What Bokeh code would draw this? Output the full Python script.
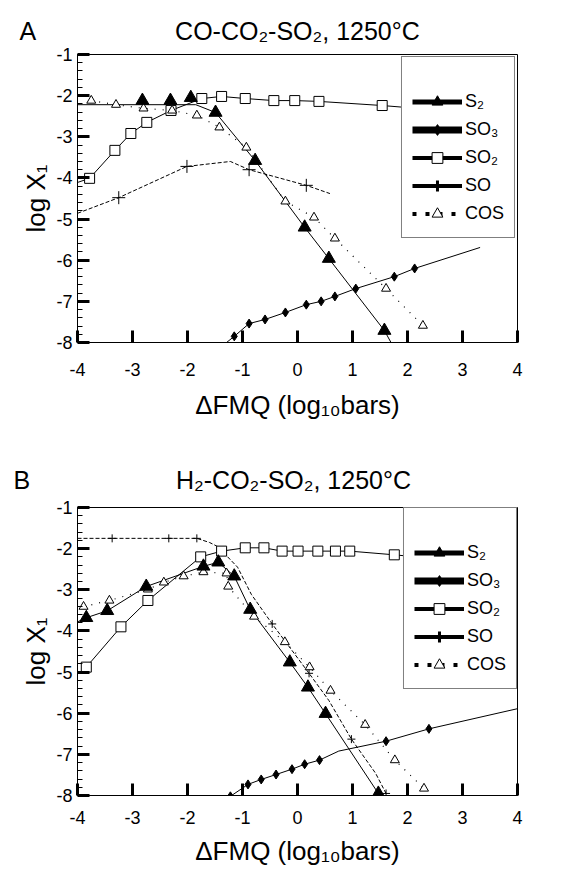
from bokeh.plotting import figure
from bokeh.models import Legend, LegendItem, Range1d, FixedTicker, Title
from bokeh.layouts import column
from bokeh.embed import file_html
from bokeh.resources import INLINE

FONT = "Liberation Sans"
NAN = float("nan")

x_ticks = [-4, -3, -2, -1, 0, 1, 2, 3, 4]
y_ticks = [-8, -7, -6, -5, -4, -3, -2, -1]
y_minor = [round(-8 + 0.2 * i, 2) for i in range(36)]

titles = ["CO-CO₂-SO₂, 1250°C", "H₂-CO₂-SO₂, 1250°C"]
panel_letters = ["A", "B"]
x_label = "ΔFMQ (log₁₀bars)"
y_label = "log X₁"
legend_labels = ["S₂", "SO₃", "SO₂", "SO", "COS"]

# ---------------- Panel A ----------------
a_s2_x = [-2.82, -2.31, -1.94, -1.49, -0.77, 0.13, 0.57, 1.58]
a_s2_y = [-2.12, -2.12, -2.05, -2.41, -3.58, -5.20, -5.96, -7.71]
a_s2_line_x = [-4.0, -1.85, -1.49, -0.77, 0.13, 0.57, 1.58, 1.70]
a_s2_line_y = [-2.22, -2.22, -2.41, -3.58, -5.20, -5.96, -7.71, -8.0]

a_so2_x = [-3.78, -3.32, -3.03, -2.74, -2.30, -1.74, -1.38, -0.95, -0.43, -0.05, 0.39, 1.54]
a_so2_y = [-4.01, -3.33, -2.92, -2.65, -2.36, -2.07, -2.02, -2.07, -2.12, -2.12, -2.14, -2.24]
a_so2_line_x = [-4.0] + a_so2_x + [2.0]
a_so2_line_y = [-4.11] + a_so2_y + [-2.29]

a_so3_x = [-1.15, -0.88, -0.59, -0.22, 0.16, 0.43, 0.68, 1.06, 1.76, 2.13]
a_so3_y = [-7.85, -7.54, -7.44, -7.27, -7.08, -7.00, -6.88, -6.69, -6.40, -6.20]
a_so3_line_x = [-1.29] + a_so3_x + [3.32]
a_so3_line_y = [-8.0] + a_so3_y + [-5.69]

a_so_x = [-3.25, -2.01, -0.88, 0.16]
a_so_y = [-4.48, -3.72, -3.80, -4.18]
a_so_line_x = [-4.0, -3.25, -2.01, -1.22, -0.88, 0.16, 0.59]
a_so_line_y = [-4.86, -4.48, -3.72, -3.60, -3.80, -4.18, -4.38]

a_cos_x = [-3.75, -3.30, -2.80, -2.28, -1.83, -1.42, -0.93, -0.22, 0.30, 0.68, 1.61, 2.28]
a_cos_y = [-2.12, -2.22, -2.31, -2.36, -2.48, -2.77, -3.26, -4.57, -4.96, -5.47, -6.69, -7.59]

# ---------------- Panel B ----------------
b_s2_x = [-3.84, -3.46, -2.75, -1.71, -1.44, -1.15, -0.86, -0.14, 0.19, 0.51, 1.47]
b_s2_y = [-3.68, -3.51, -2.92, -2.43, -2.33, -2.67, -3.48, -4.76, -5.37, -6.01, -7.95]
b_s2_line_x = [-4.0] + b_s2_x + [1.52]
b_s2_line_y = [-3.78] + b_s2_y + [-8.0]

b_so2_x = [-3.84, -3.21, -2.72, -1.76, -1.38, -0.95, -0.61, -0.28, 0.01, 0.37, 0.69, 0.95, 1.76]
b_so2_y = [-4.88, -3.90, -3.26, -2.20, -2.06, -1.98, -1.98, -2.06, -2.06, -2.06, -2.06, -2.06, -2.15]
b_so2_line_x = b_so2_x + [2.0]
b_so2_line_y = b_so2_y + [-2.18]

b_so3_x = [-1.22, -0.90, -0.66, -0.39, -0.10, 0.13, 0.40, 1.61, 2.39]
b_so3_y = [-8.02, -7.73, -7.61, -7.49, -7.36, -7.24, -7.14, -6.68, -6.38]
b_so3_line_x = [-1.22, -0.90, -0.66, -0.39, -0.10, 0.13, 0.40, 0.75, 1.61, 2.39, 4.0]
b_so3_line_y = [-8.02, -7.73, -7.61, -7.49, -7.36, -7.24, -7.14, -6.92, -6.68, -6.38, -5.89]

b_so_x = [-3.37, -2.34, -1.83, -0.46, 0.21, 0.98, 1.61]
b_so_y = [-1.75, -1.75, -1.75, -3.83, -5.03, -6.63, -7.95]
b_so_line_x = [-4.0, -3.37, -2.34, -1.83, -1.60, -1.45, -1.09, -0.84, -0.46, 0.21, 0.57, 0.98, 1.42, 1.61]
b_so_line_y = [-1.75, -1.75, -1.75, -1.75, -1.85, -1.95, -2.45, -3.11, -3.83, -5.03, -5.69, -6.63, -7.46, -7.95]

b_cos_x = [-3.89, -3.42, -2.72, -2.43, -2.07, -1.71, -1.29, -1.26, -0.79, -0.23, 0.22, 0.60, 1.23, 1.77, 2.30]
b_cos_y = [-3.41, -3.26, -2.99, -2.82, -2.67, -2.57, -2.60, -2.92, -3.65, -4.27, -4.88, -5.45, -6.28, -7.14, -7.83]


def make_panel(idx, borders, d, title_offset, title_standoff, gap, tick_standoff, axlab_standoff,
               legend_margin):
    left, right, top, bottom = borders
    p = figure(width=564, height=435, x_range=Range1d(-4, 4), y_range=Range1d(-8, -1),
               output_backend="svg", toolbar_location=None,
               min_border_left=left, min_border_right=right,
               min_border_top=top, min_border_bottom=bottom)
    p.grid.visible = False
    p.outline_line_color = "black"
    p.outline_line_width = 1
    p.background_fill_color = "white"
    p.border_fill_color = "white"

    # panel letter + title on one line
    p.title = Title(text=panel_letters[idx] + "\u00a0" * gap + titles[idx], align="left",
                    offset=title_offset, standoff=title_standoff, text_font=FONT,
                    text_font_size="25px", text_font_style="normal", text_color="black")

    p.xaxis.ticker = FixedTicker(ticks=x_ticks, minor_ticks=[])
    p.yaxis.ticker = FixedTicker(ticks=y_ticks, minor_ticks=y_minor)
    p.xaxis.major_label_overrides = {t: str(t) for t in x_ticks}
    p.yaxis.major_label_overrides = {t: str(t) for t in y_ticks}
    for ax in (p.xaxis[0], p.yaxis[0]):
        ax.axis_line_color = "black"
        ax.axis_line_width = 1
        ax.major_tick_in = 12
        ax.major_tick_out = 0
        ax.major_tick_line_width = 3
        ax.major_tick_line_color = "black"
        ax.minor_tick_in = 5
        ax.minor_tick_out = 0
        ax.minor_tick_line_color = "black"
        ax.major_label_text_font = FONT
        ax.major_label_text_font_size = "18px"
        ax.major_label_text_color = "black"
        ax.axis_label_text_font = FONT
        ax.axis_label_text_font_size = "26px"
        ax.axis_label_text_font_style = "normal"
        ax.axis_label_text_color = "black"
    p.xaxis.axis_label = x_label
    p.yaxis.axis_label = y_label
    p.xaxis.major_label_standoff = tick_standoff
    p.yaxis.major_label_standoff = 5
    p.xaxis.axis_label_standoff = axlab_standoff
    p.yaxis.axis_label_standoff = 2

    # data lines
    p.line(d["so2_lx"], d["so2_ly"], line_color="black", line_width=1)
    p.line(d["so3_lx"], d["so3_ly"], line_color="black", line_width=1)
    p.line(d["s2_lx"], d["s2_ly"], line_color="black", line_width=1)
    p.line(d["so_lx"], d["so_ly"], line_color="black", line_width=1, line_dash="4 2")
    p.line(d["cos_x"], d["cos_y"], line_color="black", line_width=1.2, line_dash="1 7")

    # markers
    p.scatter(d["so2_x"], d["so2_y"], marker="square", size=d["sq"], fill_color="white",
              line_color="black", line_width=1)
    p.scatter(d["so3_x"], d["so3_y"], marker="diamond", size=9, fill_color="black", line_color="black")
    p.scatter(d["so_x"], d["so_y"], marker="cross", size=d["cr"], line_color="black", line_width=1)
    p.scatter(d["cos_x"], d["cos_y"], marker="triangle", size=9, fill_color="white",
              line_color="black", line_width=1)
    p.scatter(d["s2_x"], d["s2_y"], marker="triangle", size=13, fill_color="black", line_color="black")

    # legend-only glyphs (thick, as in the original key); NaN data so nothing is plotted
    nx, ny = [NAN], [NAN]
    l_s2 = [p.line(nx, ny, line_color="black", line_width=5),
            p.scatter(nx, ny, marker="triangle", fill_color="black", line_color="black")]
    l_so3 = [p.line(nx, ny, line_color="black", line_width=7),
             p.scatter(nx, ny, marker="diamond", fill_color="black", line_color="black")]
    l_so2 = [p.line(nx, ny, line_color="black", line_width=4),
             p.scatter(nx, ny, marker="square", fill_color="white", line_color="black")]
    l_so = [p.line(nx, ny, line_color="black", line_width=4),
            p.scatter(nx, ny, marker="cross", line_color="black", line_width=3)]
    l_cos = [p.line(nx, ny, line_color="black", line_width=4, line_dash="4 9"),
             p.scatter(nx, ny, marker="triangle", fill_color="white", line_color="black")]
    items = [LegendItem(label=lab, renderers=r) for lab, r in
             zip(legend_labels, [l_s2, l_so3, l_so2, l_so, l_cos])]
    leg = Legend(items=items, location="top_right", margin=legend_margin, padding=10, spacing=1,
                 glyph_width=50, glyph_height=27, label_height=27, label_width=39,
                 label_standoff=3, label_text_font=FONT, label_text_font_size="18px",
                 label_text_color="black",
                 border_line_color="black", border_line_width=1, background_fill_color="white",
                 background_fill_alpha=1, title=" ", title_text_font_size="14px")
    p.add_layout(leg)
    return p


dA = dict(s2_x=a_s2_x, s2_y=a_s2_y, s2_lx=a_s2_line_x, s2_ly=a_s2_line_y,
          so2_x=a_so2_x, so2_y=a_so2_y, so2_lx=a_so2_line_x, so2_ly=a_so2_line_y,
          so3_x=a_so3_x, so3_y=a_so3_y, so3_lx=a_so3_line_x, so3_ly=a_so3_line_y,
          so_x=a_so_x, so_y=a_so_y, so_lx=a_so_line_x, so_ly=a_so_line_y,
          cos_x=a_cos_x, cos_y=a_cos_y, sq=10, cr=13)
dB = dict(s2_x=b_s2_x, s2_y=b_s2_y, s2_lx=b_s2_line_x, s2_ly=b_s2_line_y,
          so2_x=b_so2_x, so2_y=b_so2_y, so2_lx=b_so2_line_x, so2_ly=b_so2_line_y,
          so3_x=b_so3_x, so3_y=b_so3_y, so3_lx=b_so3_line_x, so3_ly=b_so3_line_y,
          so_x=b_so_x, so_y=b_so_y, so_lx=b_so_line_x, so_ly=b_so_line_y,
          cos_x=b_cos_x, cos_y=b_cos_y, sq=10, cr=8)

pA = make_panel(0, (72, 47, 54, 93), dA, -58, 19, 20, 20, 11, 2)
pB = make_panel(1, (77, 44, 72, 75), dB, -64, 28, 21, 15, 9, 0)

layout = column(pA, pB, spacing=0)
open("out.html", "w").write(file_html(layout, INLINE))
